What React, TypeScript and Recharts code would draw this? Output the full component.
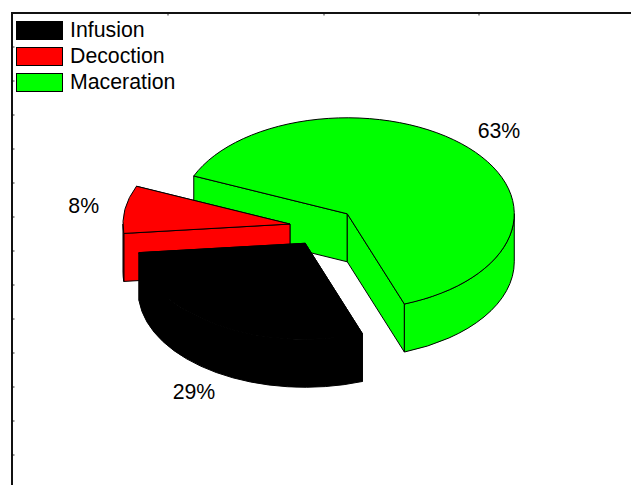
import { PieChart, Pie, Legend } from 'recharts'

const categories = ['Maceration', 'Decoction', 'Infusion']
const shares = [63, 8, 29]
const sliceColors = ['#00ff00', '#ff0000', '#000000']
const legendOrder = ['Infusion', 'Decoction', 'Maceration']

const chartData = categories.map((name, i) => ({ name, value: shares[i], fill: sliceColors[i] }))

const RAD = Math.PI / 180
const SQUASH = 0.575 // vertical flattening of the tilted disc
const DEPTH = 48
const EXPLODE = 0.2
const FONT = '"Liberation Sans", Arial, sans-serif'

const leftTicks = Array.from({ length: 13 }, (_, i) => 47 + i * 34)
const topTicks = [168, 324, 479]

// polar angle -> point on the flattened ellipse
const onEllipse = (x: number, y: number, r: number, deg: number) => ({
  x: x + r * Math.cos(deg * RAD),
  y: y - r * SQUASH * Math.sin(deg * RAD),
})

const arcTo = (p: { x: number; y: number }, r: number, large: boolean, clockwiseOnScreen: boolean) =>
  `A ${r} ${r * SQUASH} 0 ${large ? 1 : 0} ${clockwiseOnScreen ? 1 : 0} ${p.x} ${p.y}`

function Slice3D(props: any) {
  const { cx, cy, outerRadius: r, startAngle, endAngle, midAngle, fill } = props
  const mid = onEllipse(0, 0, r * EXPLODE, midAngle)
  const ox = cx + mid.x
  const oy = cy + mid.y
  const a0 = Math.min(startAngle, endAngle)
  const a1 = Math.max(startAngle, endAngle)
  const p0 = onEllipse(ox, oy, r, a0)
  const p1 = onEllipse(ox, oy, r, a1)
  const large = a1 - a0 > 180

  const wall = (deg: number) => {
    const p = onEllipse(ox, oy, r, deg)
    return `M ${ox} ${oy} L ${p.x} ${p.y} L ${p.x} ${p.y + DEPTH} L ${ox} ${oy + DEPTH} Z`
  }
  // back wall first, the one nearer the viewer on top of it
  const walls = [a0, a1].sort((a, b) => Math.sin(b * RAD) - Math.sin(a * RAD))

  // the outer rim only shows on the front half of the disc
  const rims: [number, number][] = []
  for (const k of [-1, 0, 1]) {
    const from = Math.max(a0, 180 + k * 360)
    const to = Math.min(a1, 360 + k * 360)
    if (to > from) rims.push([from, to])
  }

  const strokeProps = { stroke: '#000', strokeWidth: 1, strokeLinejoin: 'round' as const }

  return (
    <g>
      {walls.map((deg) => (
        <path key={deg} d={wall(deg)} fill={fill} {...strokeProps} />
      ))}
      {rims.map(([from, to]) => {
        const s = onEllipse(ox, oy, r, from)
        const e = onEllipse(ox, oy, r, to)
        return (
          <path
            key={from}
            d={`M ${s.x} ${s.y} ${arcTo(e, r, to - from > 180, false)} L ${e.x} ${e.y + DEPTH} ${arcTo(
              { x: s.x, y: s.y + DEPTH },
              r,
              to - from > 180,
              true,
            )} Z`}
            fill={fill}
            {...strokeProps}
          />
        )
      })}
      <path d={`M ${ox} ${oy} L ${p0.x} ${p0.y} ${arcTo(p1, r, large, false)} Z`} fill={fill} {...strokeProps} />
    </g>
  )
}

function sliceLabel(props: any) {
  const { cx, cy, outerRadius: r, midAngle, value } = props
  const mid = onEllipse(cx, cy, r * EXPLODE, midAngle)
  const p = onEllipse(mid.x, mid.y, r * 1.25, midAngle)
  const drop = Math.sin(midAngle * RAD) < 0 ? DEPTH - 1 : 0
  return (
    <text
      x={p.x}
      y={p.y + drop}
      textAnchor="middle"
      dominantBaseline="central"
      fontFamily={FONT}
      fontSize={21.3}
      fill="#000"
    >
      {`${value}%`}
    </text>
  )
}

function LegendBox() {
  return (
    <div style={{ fontFamily: FONT, fontSize: 21.3, color: '#000', lineHeight: '26px' }}>
      {legendOrder.map((name) => (
        <div key={name} style={{ display: 'flex', alignItems: 'center', height: 26 }}>
          <span
            style={{
              width: 47,
              height: 19,
              boxSizing: 'border-box',
              border: '1px solid #000',
              background: sliceColors[categories.indexOf(name)],
              marginRight: 7,
            }}
          />
          <span>{name}</span>
        </div>
      ))}
    </div>
  )
}

export default function App() {
  return (
    <div style={{ position: 'absolute', left: 0, top: 0, width: 631, height: 485, background: '#fff' }}>
      <PieChart width={631} height={485} margin={{ top: 0, right: 0, bottom: 0, left: 0 }}>
        <line x1={12} y1={485} x2={12} y2={13} stroke="#111" strokeWidth={2} />
        <line x1={11} y1={13} x2={631} y2={13} stroke="#111" strokeWidth={2} />
        {leftTicks.map((y) => (
          <line key={y} x1={13} y1={y} x2={14.5} y2={y} stroke="#333" strokeWidth={1} />
        ))}
        {topTicks.map((x) => (
          <line key={x} x1={x} y1={14} x2={x} y2={15.5} stroke="#333" strokeWidth={1} />
        ))}
        <Pie
          data={chartData}
          dataKey="value"
          nameKey="name"
          cx={323}
          cy={227}
          outerRadius={167}
          startAngle={-70}
          endAngle={290}
          paddingAngle={0}
          shape={Slice3D}
          label={sliceLabel}
          labelLine={false}
          isAnimationActive={false}
        />
        <Legend
          layout="vertical"
          align="center"
          verticalAlign="middle"
          wrapperStyle={{ left: 16, top: 17, width: 170 }}
          content={() => <LegendBox />}
        />
      </PieChart>
    </div>
  )
}
